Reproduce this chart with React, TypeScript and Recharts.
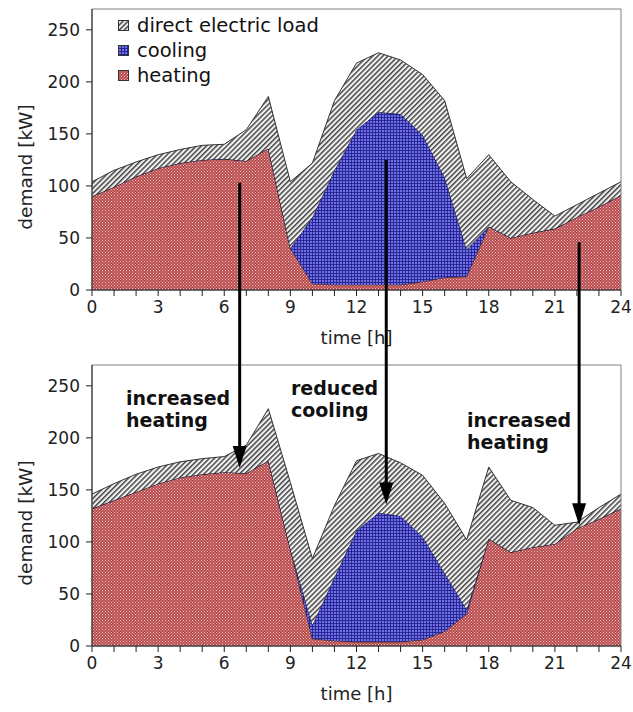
import React from 'react';
import { AreaChart, Area, XAxis, YAxis, ReferenceArea, Legend } from 'recharts';

// ---- data (hours 0..24) ----
const hours = [0,1,2,3,4,5,6,7,8,9,10,11,12,13,14,15,16,17,18,19,20,21,22,23,24];

// scenario 1 (top panel)
const heating1 = [90, 99, 109, 117, 122, 125, 126, 124, 136, 40, 6, 5, 5, 5, 5, 8, 12, 13, 61, 50, 55, 59, 70, 80, 91];
const cooling1 = [0, 0, 0, 0, 0, 0, 0, 0, 0, 0, 64, 110, 149, 166, 164, 141, 96, 26, 0, 0, 0, 0, 0, 0, 0];
const electric1 = [14, 16, 14, 13, 13, 14, 14, 30, 50, 64, 52, 67, 64, 57, 52, 58, 74, 68, 69, 54, 32, 12, 12, 13, 13];

// scenario 2 (bottom panel)
const heating2 = [132, 140, 148, 156, 162, 165, 167, 166, 178, 93, 7, 5, 4, 4, 4, 6, 14, 31, 103, 90, 95, 98, 113, 122, 132];
const cooling2 = [0, 0, 0, 0, 0, 0, 0, 0, 0, 0, 13, 61, 107, 124, 121, 99, 56, 4, 0, 0, 0, 0, 0, 0, 0];
const electric2 = [14, 16, 17, 16, 15, 15, 15, 27, 50, 64, 64, 69, 67, 57, 51, 59, 67, 67, 69, 50, 38, 18, 6, 11, 14];

const yTicks = [0, 50, 100, 150, 200, 250];
const legendLabels = ['direct electric load', 'cooling', 'heating'];

// annotation arrows: hour, start value (top panel), tip value (bottom panel)
const arrowHours = [6.7, 13.35, 22.1];
const arrowFrom = [103, 125, 46];
const arrowTo = [171, 136, 116];

const annotations = [
  { lines: ['increased', 'heating'], x: 126, y: 405 },
  { lines: ['reduced', 'cooling'], x: 291, y: 395 },
  { lines: ['increased', 'heating'], x: 467, y: 427 },
];

// ---- layout ----
const FONT = '"DejaVu Sans", "Liberation Sans", sans-serif';
const W = 633;
const H = 356;
const Y_MAX = 270;
const Y_AXIS_W = 92;
const X_AXIS_H = 60;
const MARGIN = { top: 9, right: 12, bottom: 6, left: 0 };
const PLOT_L = Y_AXIS_W;
const PLOT_R = W - MARGIN.right;
const PLOT_T = MARGIN.top;
const PLOT_B = H - MARGIN.bottom - X_AXIS_H;

const px = (h: number) => PLOT_L + (h / 24) * (PLOT_R - PLOT_L);
const py = (v: number, panel: number) => panel * H + PLOT_B - (v / Y_MAX) * (PLOT_B - PLOT_T);

const buildRows = (h: number[], c: number[], e: number[]) =>
  hours.map((t, i) => ({ t, heating: h[i], cooling: c[i], electric: e[i] }));

const rows1 = buildRows(heating1, cooling1, electric1);
const rows2 = buildRows(heating2, cooling2, electric2);

const patternIds = ['hatchPat', 'coolPat', 'heatPat'];

function Patterns() {
  return (
    <svg width={0} height={0} style={{ position: 'absolute' }}>
      <defs>
        <pattern id="hatchPat" width="3.6" height="3.6" patternUnits="userSpaceOnUse" patternTransform="rotate(45)">
          <rect width="3.6" height="3.6" fill="#f2f2f2" />
          <rect width="1.5" height="3.6" fill="#464646" />
        </pattern>
        <pattern id="coolPat" width="3" height="3" patternUnits="userSpaceOnUse">
          <rect width="3" height="3" fill="#6262dc" />
          <rect width="3" height="0.8" fill="#1c1c8c" />
          <rect width="0.8" height="3" fill="#1c1c8c" />
          <rect x="1.6" y="1.6" width="0.8" height="0.8" fill="#b4b4f2" />
        </pattern>
        <pattern id="heatPat" width="3" height="3" patternUnits="userSpaceOnUse">
          <rect width="3" height="3" fill="#b84a4c" />
          <rect x="0" y="0" width="1" height="1" fill="#f0c4c4" />
          <rect x="1.5" y="1.5" width="1" height="1" fill="#f0c4c4" />
        </pattern>
      </defs>
    </svg>
  );
}

function LegendBox() {
  return (
    <div style={{ fontFamily: FONT, fontSize: 19.5, color: '#111' }}>
      {legendLabels.map((lab, i) => (
        <div key={lab} style={{ display: 'flex', alignItems: 'center', height: 25, whiteSpace: 'nowrap' }}>
          <svg width={12} height={12} style={{ marginRight: 7 }}>
            <rect x={0.5} y={0.5} width={10} height={10} fill={`url(#${patternIds[i]})`} stroke="#333" strokeWidth={1} />
          </svg>
          <span>{lab}</span>
        </div>
      ))}
    </div>
  );
}

const yLabel = () => (
  <text
    x={25}
    y={167}
    transform="rotate(-90 25 167)"
    textAnchor="middle"
    dominantBaseline="central"
    fill="#222"
    fontSize={18.5}
    fontFamily={FONT}
  >
    demand [kW]
  </text>
);

function Panel({ data, showLegend }: { data: any[]; showLegend: boolean }) {
  return (
    <AreaChart width={W} height={H} data={data} margin={MARGIN}>
      <XAxis
        dataKey="t"
        type="number"
        domain={[0, 24]}
        ticks={hours}
        interval={0}
        tickFormatter={(v: number) => (v % 3 === 0 ? String(v) : '')}
        tickSize={6}
        tickMargin={5}
        height={X_AXIS_H}
        stroke="#222"
        tick={{ fill: '#222', fontSize: 17, fontFamily: FONT }}
        label={{ value: 'time [h]', position: 'insideBottom', offset: 6, fill: '#222', fontSize: 18, fontFamily: FONT }}
      />
      <YAxis
        type="number"
        domain={[0, Y_MAX]}
        ticks={yTicks}
        interval={0}
        width={Y_AXIS_W}
        tickSize={6}
        tickMargin={6}
        stroke="#222"
        tick={{ fill: '#222', fontSize: 17, fontFamily: FONT }}
        label={yLabel}
      />
      <Area
        stackId="s"
        dataKey="heating"
        type="linear"
        fill="url(#heatPat)"
        fillOpacity={1}
        stroke="#2a1a1a"
        strokeWidth={1}
        isAnimationActive={false}
        dot={false}
        activeDot={false}
      />
      <Area
        stackId="s"
        dataKey="cooling"
        type="linear"
        fill="url(#coolPat)"
        fillOpacity={1}
        stroke="#14143c"
        strokeWidth={1}
        isAnimationActive={false}
        dot={false}
        activeDot={false}
      />
      <Area
        stackId="s"
        dataKey="electric"
        type="linear"
        fill="url(#hatchPat)"
        fillOpacity={1}
        stroke="#333"
        strokeWidth={1}
        isAnimationActive={false}
        dot={false}
        activeDot={false}
      />
      <ReferenceArea x1={0} x2={24} y1={0} y2={Y_MAX} fill="none" stroke="#808080" strokeWidth={1} ifOverflow="visible" />
      {showLegend && (
        <Legend
          layout="vertical"
          align="center"
          verticalAlign="middle"
          content={() => <LegendBox />}
          wrapperStyle={{ left: 118, top: 13, width: 240, height: 80 }}
        />
      )}
    </AreaChart>
  );
}

function Overlay() {
  return (
    <svg
      width={W}
      height={2 * H}
      style={{ position: 'absolute', left: 0, top: 0, pointerEvents: 'none' }}
    >
      {arrowHours.map((h, i) => {
        const x = px(h);
        const y1 = py(arrowFrom[i], 0);
        const tip = py(arrowTo[i], 1);
        const headLen = 22;
        const headHalf = 7;
        return (
          <g key={i}>
            <line x1={x} y1={y1} x2={x} y2={tip - headLen + 2} stroke="#000" strokeWidth={3} />
            <polygon
              points={`${x - headHalf},${tip - headLen} ${x + headHalf},${tip - headLen} ${x},${tip}`}
              fill="#000"
            />
          </g>
        );
      })}
      {annotations.map((a, i) => (
        <text key={i} fontFamily={FONT} fontWeight="bold" fontSize={19} fill="#111">
          {a.lines.map((ln, j) => (
            <tspan key={j} x={a.x} y={a.y + j * 22}>
              {ln}
            </tspan>
          ))}
        </text>
      ))}
    </svg>
  );
}

export default function App() {
  return (
    <div style={{ position: 'absolute', left: 0, top: 0, width: W, height: 2 * H, background: '#fff' }}>
      <Patterns />
      <div style={{ position: 'absolute', left: 0, top: 0 }}>
        <Panel data={rows1} showLegend={true} />
      </div>
      <div style={{ position: 'absolute', left: 0, top: H }}>
        <Panel data={rows2} showLegend={false} />
      </div>
      <Overlay />
    </div>
  );
}
